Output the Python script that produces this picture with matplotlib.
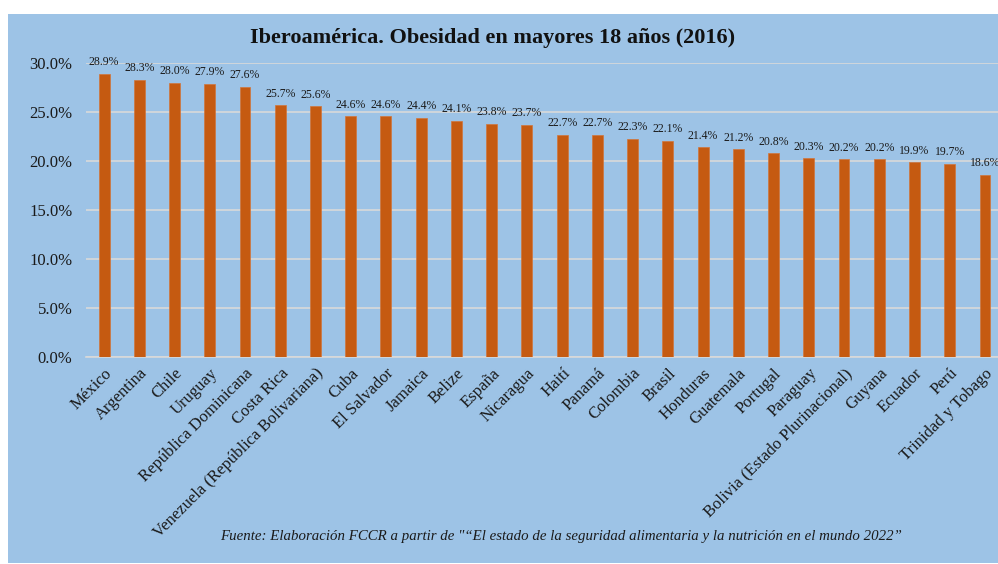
import matplotlib
matplotlib.use("Agg")
import matplotlib.pyplot as plt
from matplotlib.patches import Rectangle
from matplotlib.ticker import FuncFormatter
import numpy as np

paises = ["México", "Argentina", "Chile", "Uruguay", "República Dominicana",
          "Costa Rica", "Venezuela (República Bolivariana)", "Cuba", "El Salvador",
          "Jamaica", "Belize", "España", "Nicaragua", "Haití", "Panamá",
          "Colombia", "Brasil", "Honduras", "Guatemala", "Portugal", "Paraguay",
          "Bolivia (Estado Plurinacional)", "Guyana", "Ecuador", "Perú",
          "Trinidad y Tobago"]
obesidad = [28.9, 28.3, 28.0, 27.9, 27.6, 25.7, 25.6, 24.6, 24.6, 24.4, 24.1,
            23.8, 23.7, 22.7, 22.7, 22.3, 22.1, 21.4, 21.2, 20.8, 20.3, 20.2,
            20.2, 19.9, 19.7, 18.6]

fondo = "#9DC3E6"
barra = "#C55A11"
texto = "#1a1a1a"

plt.rcParams['font.family'] = ['Liberation Serif', 'DejaVu Serif']

fig = plt.figure(figsize=(9.98, 5.64), dpi=100, facecolor="white")
fig.patches.append(Rectangle((8 / 998, 1 / 564), 990 / 998, 549 / 564,
                             transform=fig.transFigure, facecolor=fondo,
                             edgecolor="none", zorder=-10))

ax = fig.add_axes([0.0866, 0.367, 0.918, 0.521])
ax.set_facecolor("none")

x = np.arange(len(paises))
vals = np.array(obesidad) / 100
ax.bar(x, vals, width=0.31, color=barra, edgecolor="#D2753A", linewidth=0.5, zorder=3)

for xi, v in zip(x, vals):
    ax.annotate(f"{v * 100:.1f}%", (xi, v), xytext=(0, 4), textcoords="offset points",
                ha="center", va="bottom", fontsize=8.5, color=texto,
                annotation_clip=False)

ax.set_xlim(-0.5, len(paises) - 0.5)
ax.set_ylim(0, 0.30)
ax.set_yticks(np.arange(0, 0.301, 0.05))
ax.yaxis.set_major_formatter(FuncFormatter(lambda v, p: f"{v * 100:.1f}%"))
ax.grid(axis="y", color="#D9D9D9", linewidth=1.2, zorder=1)
ax.set_axisbelow(True)
for s in ["top", "right", "left"]:
    ax.spines[s].set_visible(False)
ax.spines["bottom"].set_color("#D9D9D9")
ax.spines["bottom"].set_linewidth(1.2)
ax.tick_params(axis="both", length=0, labelsize=12, colors=texto)
ax.tick_params(axis="y", pad=10)
ax.tick_params(axis="x", pad=6)

ax.set_xticks(x)
ax.set_xticklabels(paises, rotation=45, ha="right", rotation_mode="anchor")

fig.text(0.494, 0.933, "Iberoamérica. Obesidad en mayores 18 años (2016)",
         ha="center", va="center", fontsize=16, fontweight="bold", color="#111111")
fig.text(0.562, 0.048,
         "Fuente: Elaboración FCCR a partir de \"\u201cEl estado de la seguridad alimentaria y la nutrición en el mundo 2022\u201d",
         ha="center", va="center", fontsize=10.7, style="italic", color=texto)

fig.savefig("out.png", dpi=100, facecolor="white")
